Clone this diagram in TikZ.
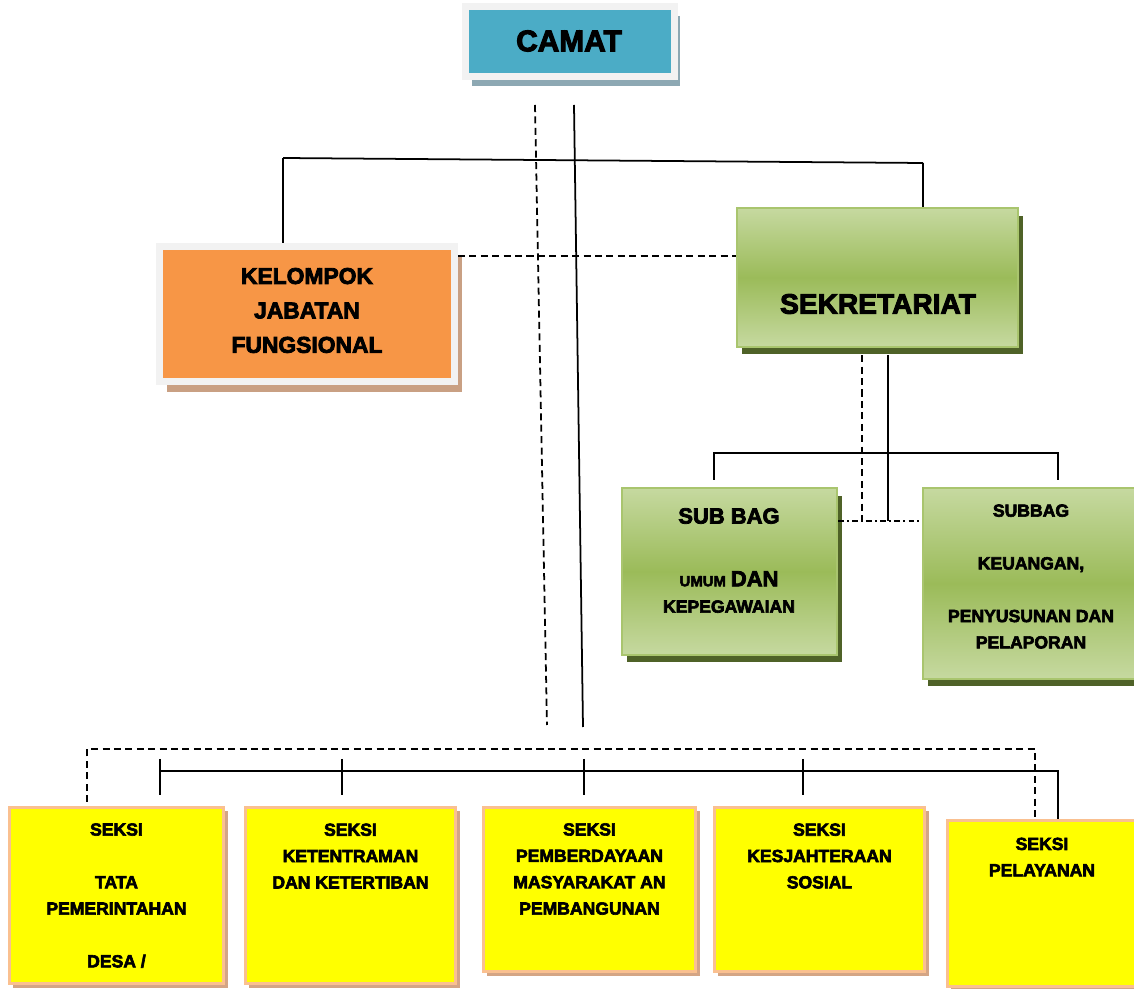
\documentclass[tikz,border=0pt]{standalone}
\usepackage{fontspec}
\setmainfont{Liberation Sans}[FakeBold=3.5]
\usetikzlibrary{shadows}

\definecolor{camatblue}{HTML}{4BACC6}
\definecolor{camatshade}{HTML}{8DA8B3}
\definecolor{framegray}{HTML}{F2F2F2}
\definecolor{kjforange}{HTML}{F79646}
\definecolor{kjfshade}{HTML}{C9A083}
\definecolor{seklight}{HTML}{C6D9A0}
\definecolor{sekmid}{HTML}{9BBB59}
\definecolor{sekborder}{HTML}{A9C56E}
\definecolor{sekshade}{HTML}{4F6228}
\definecolor{seksiyellow}{HTML}{FFFF00}
\definecolor{seksiborder}{HTML}{FAC090}
\definecolor{seksishade}{HTML}{D4A585}

\tikzset{
  box/.style={rectangle, inner sep=0pt},
  framebox/.style={box, draw=framegray, line width=0.14cm},
  camatbox/.style={framebox, fill=camatblue,
    drop shadow={shadow xshift=0.12cm, shadow yshift=-0.2cm, fill=camatshade, opacity=1}},
  kjfbox/.style={framebox, fill=kjforange,
    drop shadow={shadow xshift=0.15cm, shadow yshift=-0.21cm, fill=kjfshade, opacity=1}},
  sekbox/.style={box, draw=sekborder, line width=0.05cm,
    top color=seklight, bottom color=seklight, middle color=sekmid,
    drop shadow={shadow xshift=0.1cm, shadow yshift=-0.15cm, fill=sekshade, opacity=1}},
  seksibox/.style={box, fill=seksiyellow, draw=seksiborder, line width=0.06cm,
    drop shadow={shadow xshift=0.08cm, shadow yshift=-0.08cm, fill=seksishade, opacity=1}},
  lbl/.style={align=center, inner sep=0pt, font=\bfseries},
  dashline/.style={dash pattern=on 4pt off 2.5pt},
  dotline/.style={dash pattern=on 3pt off 2pt on 1pt off 2pt},
}

\begin{document}
\begin{tikzpicture}[x=0.02cm, y=-0.02cm, line width=1pt]
  \useasboundingbox (0,0) rectangle (1134,989);

  % kotak pimpinan dan sekretariat
  \node[camatbox, minimum width=4.18cm, minimum height=1.4cm] (camat) at (570,41.5) {};
  \node[kjfbox, minimum width=5.9cm, minimum height=2.7cm] (kjf) at (307,314) {};
  \node[sekbox, minimum width=5.62cm, minimum height=2.78cm] (sek) at (877.5,277.5) {};
  \node[sekbox, minimum width=4.3cm, minimum height=3.34cm] (sub1) at (729.5,571.5) {};
  \node[sekbox, minimum width=4.28cm, minimum height=3.82cm] (sub2) at (1030,583.5) {};

  % kotak seksi
  \node[seksibox, minimum width=4.3cm, minimum height=3.54cm] (s1) at (116.5,895.5) {};
  \node[seksibox, minimum width=4.22cm, minimum height=3.54cm] (s2) at (350.5,895.5) {};
  \node[seksibox, minimum width=4.26cm, minimum height=3.3cm] (s3) at (589.5,889.5) {};
  \node[seksibox, minimum width=4.22cm, minimum height=3.3cm] (s4) at (819.5,889.5) {};
  \node[seksibox, minimum width=3.8cm, minimum height=3.34cm] (s5) at (1042,903.5) {};

  % teks
  \node[lbl, font=\bfseries\fontsize{17}{20}\selectfont] (camatT) at (569,41) {CAMAT};
  \node[lbl, font=\bfseries\fontsize{13}{19.6}\selectfont] (kjfT) at (307,310.5) {KELOMPOK\\JABATAN\\FUNGSIONAL};
  \node[lbl, font=\bfseries\fontsize{16}{19}\selectfont] (sekT) at (878,304) {SEKRETARIAT};
  \node[lbl, font=\bfseries\fontsize{12.5}{15}\selectfont] (sub1T) at (729,516) {SUB BAG};
  \node[lbl, font=\bfseries\fontsize{10}{15}\selectfont] (sub1B) at (729,592) {{\fontsize{8.5}{15}\selectfont UMUM} {\fontsize{12.5}{15}\selectfont DAN}\\KEPEGAWAIAN};
  \node[lbl, font=\bfseries\fontsize{10}{15}\selectfont] (sub2T) at (1031,576.5) {SUBBAG\\[15pt]KEUANGAN,\\[15pt]PENYUSUNAN DAN\\PELAPORAN};
  \node[lbl, font=\bfseries\fontsize{10}{15}\selectfont] (s1T) at (116.5,895.5) {SEKSI\\[15pt]TATA\\PEMERINTAHAN\\[15pt]DESA /};
  \node[lbl, font=\bfseries\fontsize{10}{15}\selectfont] (s2T) at (350.5,856) {SEKSI\\KETENTRAMAN\\DAN KETERTIBAN};
  \node[lbl, font=\bfseries\fontsize{10}{15}\selectfont] (s3T) at (589.5,869) {SEKSI\\PEMBERDAYAAN\\MASYARAKAT AN\\PEMBANGUNAN};
  \node[lbl, font=\bfseries\fontsize{10}{15}\selectfont] (s4T) at (819.5,856) {SEKSI\\KESJAHTERAAN\\SOSIAL};
  \node[lbl, font=\bfseries\fontsize{10}{15}\selectfont] (s5T) at (1042,857) {SEKSI\\PELAYANAN};

  % garis dari camat
  \coordinate (vd1) at (535,105);
  \coordinate (vd2) at (547,725);
  \coordinate (vs1) at (574,105);
  \coordinate (vs2) at (583,727);
  \draw[dashline] (vd1) -- (vd2);
  \draw (vs1) -- (vs2);

  \coordinate (hl) at (283,158);
  \coordinate (hr) at (923,163);
  \draw (hl) -- (hr);
  \draw (hl) -- (hl |- kjf.north);
  \draw (hr) -- (hr |- sek.north);

  \coordinate (kd) at ([yshift=-0.26cm]kjf.north east);
  \draw[dashline] (kd) -- (kd -| sek.west);

  % garis sekretariat ke subbag
  \coordinate (sd) at ([xshift=-0.31cm, yshift=-0.14cm]sek.south);
  \coordinate (ss) at ([xshift=0.21cm, yshift=-0.14cm]sek.south);
  \coordinate (ddl) at ([yshift=-0.68cm]sub1.north east);
  \draw[dotline] (ddl) -- (ddl -| sub2.west);
  \draw[dashline] (sd) -- (sd |- ddl);
  \draw (ss) -- (ss |- ddl);

  \coordinate (bl) at (714,480);
  \coordinate (br) at (1058,480);
  \draw (bl) -- ++(0,-27) -| (br);

  % garis ke seksi
  \coordinate (dl) at (87,802);
  \coordinate (dr) at (1035,817);
  \draw[dashline] (dl) -- ++(0,-53) -| (dr);

  \coordinate (sl) at (160,771);
  \draw (sl) -| ([xshift=0.32cm]s5.north);
  \foreach \x in {160,342,584,803}
    \draw (\x,759) -- (\x,795);
\end{tikzpicture}
\end{document}
